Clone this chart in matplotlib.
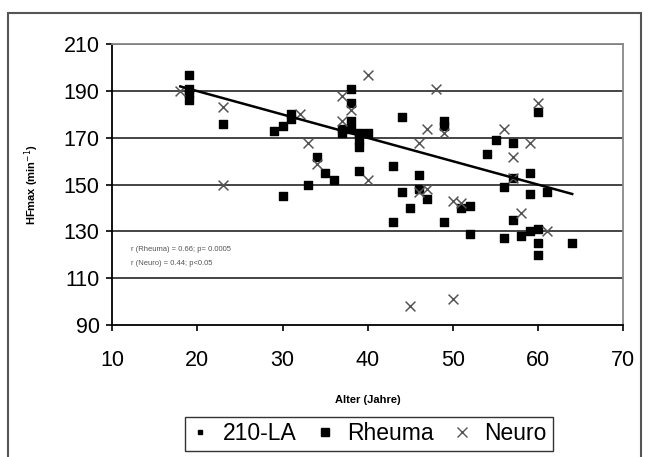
import matplotlib.pyplot as plt
from matplotlib.lines import Line2D
from matplotlib.patches import Rectangle

plt.rcParams['font.family'] = ['Liberation Sans', 'DejaVu Sans']

# 210 - Lebensalter line
la_age = [18, 64]
la_hf = [192, 146]

rheuma_age = [19, 19, 19, 19, 23, 29, 30, 30, 31, 31, 33, 34, 35, 36, 37, 37,
              38, 38, 38, 38, 39, 39, 39, 39, 40, 43, 43, 44, 44, 45, 46, 46,
              47, 49, 49, 49, 51, 52, 52, 54, 55, 56, 56, 57, 57, 57, 58, 59,
              59, 59, 60, 60, 60, 60, 61, 64]
rheuma_hf = [197, 191, 189, 186, 176, 173, 175, 145, 180, 178, 150, 162, 155, 152, 174, 172,
             191, 185, 177, 174, 172, 169, 166, 156, 172, 158, 134, 179, 147, 140, 154, 148,
             144, 177, 175, 134, 140, 141, 129, 163, 169, 149, 127, 168, 153, 135, 128, 155,
             146, 130, 181, 131, 125, 120, 147, 125]

neuro_age = [18, 23, 23, 32, 33, 34, 37, 37, 38, 40, 40, 45, 46, 46, 47, 47,
             48, 49, 50, 50, 51, 56, 57, 57, 58, 59, 60, 61]
neuro_hf = [190, 183, 150, 180, 168, 159, 188, 177, 182, 197, 152, 98, 168, 147, 174, 148,
            191, 172, 143, 101, 142, 174, 162, 153, 138, 168, 185, 130]

fig = plt.figure(figsize=(6.52, 4.57), dpi=100)
fig.patches.append(Rectangle((0.012, -0.02), 0.971, 0.992, transform=fig.transFigure,
                             fill=False, edgecolor='#555555', linewidth=1.5))
ax = fig.add_axes([0.172, 0.289, 0.784, 0.614])

ax.set_xlim(10, 70)
ax.set_ylim(90, 210)
ax.set_xticks(range(10, 71, 10))
ax.set_yticks(range(90, 211, 20))
for y in range(110, 211, 20):
    ax.axhline(y, color='#444444', linewidth=1.4, zorder=1)

ax.plot(la_age, la_hf, color='black', linewidth=1.8, zorder=4)
ax.scatter(rheuma_age, rheuma_hf, marker='s', s=40, color='black', zorder=3)
ax.scatter(neuro_age, neuro_hf, marker='x', s=50, color='#555555', linewidths=1.1, zorder=3)

ax.text(12.2, 121.5, 'r (Rheuma) = 0.66; p= 0.0005', fontsize=5.5, color='#555555')
ax.text(12.2, 115.5, 'r (Neuro) = 0.44; p<0.05', fontsize=5.5, color='#555555')

for side in ['left', 'bottom']:
    ax.spines[side].set_color('black')
    ax.spines[side].set_linewidth(1.3)
for side in ['top', 'right']:
    ax.spines[side].set_color('#888888')
    ax.spines[side].set_linewidth(1.3)

ax.tick_params(direction='out', length=4, width=1.2, labelsize=15.5, pad=5)
ax.tick_params(axis='x', pad=14)
ax.set_xlabel('Alter (Jahre)', fontsize=8, fontweight='bold', labelpad=17)
ax.set_ylabel('HFmax (min$^{-1}$)', fontsize=8, fontweight='bold', labelpad=16)

handles = [
    Line2D([], [], marker='s', markersize=2.5, linestyle='none', color='black'),
    Line2D([], [], marker='s', markersize=6, linestyle='none', color='black'),
    Line2D([], [], marker='x', markersize=7, linestyle='none', color='#555555'),
]
leg = fig.legend(handles, ['210-LA', 'Rheuma', 'Neuro'], loc='lower center',
                 bbox_to_anchor=(0.566, -0.012), ncol=3, fontsize=16.5, frameon=True,
                 fancybox=False, edgecolor='black', handlelength=0.8, handletextpad=0.6,
                 columnspacing=0.8, borderpad=0.25)
leg.get_frame().set_linewidth(1.0)

fig.savefig('out.png', dpi=100)
